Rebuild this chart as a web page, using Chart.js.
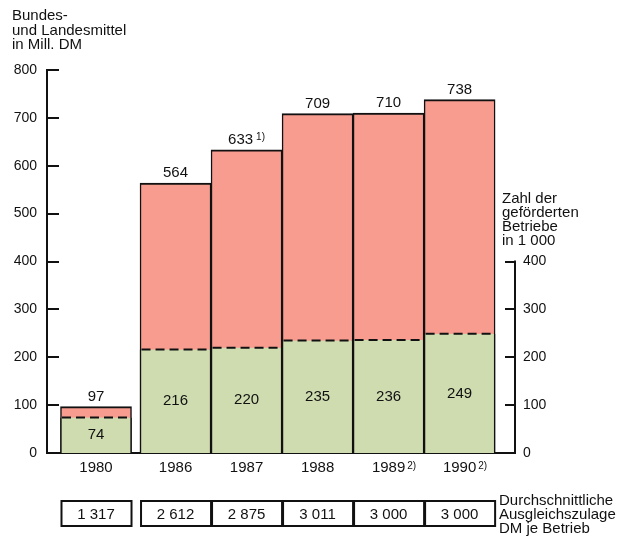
<!DOCTYPE html>
<html>
<head>
<meta charset="utf-8">
<script src="https://cdn.jsdelivr.net/npm/chart.js@4/dist/chart.umd.min.js"></script>
<style>
html, body { margin: 0; padding: 0; background: #fff; }
</style>
</head>
<body>
<canvas id="chart" width="630" height="537"></canvas>
<script>
const years = ['1980', '1986', '1987', '1988', '1989', '1990'];
const yearNotes = ['', '', '', '', '2)', '2)'];
const funds = [97, 564, 633, 709, 710, 738];      // Mill. DM
const fundNotes = ['', '', '1)', '', '', ''];
const farms = [74, 216, 220, 235, 236, 249];      // in 1 000
const perFarm = ['1 317', '2 612', '2 875', '3 011', '3 000', '3 000'];
const leftTicks = [0, 100, 200, 300, 400, 500, 600, 700, 800];
const rightTicks = [0, 100, 200, 300, 400];

// 1980 stands a little apart from the later years
const xPos = years.map((yr, i) => i + (i > 0 ? 0.12 : 0));

const FONT = "'Liberation Sans', Arial, sans-serif";
const red = '#f99c90';
const green = '#cfdcb0';

function idxOf(value) {
    let best = 0;
    xPos.forEach((p, i) => { if (Math.abs(p - value) < Math.abs(xPos[best] - value)) best = i; });
    return best;
}

function textLines(ctx, lines, x, y0, step) {
    lines.forEach((t, i) => ctx.fillText(t, x, y0 + i * step));
}

const drawings = {
    id: 'drawings',
    afterDatasetsDraw(chart) {
        const { ctx, chartArea: area, scales: { x, y, y2 } } = chart;
        const farmMeta = chart.getDatasetMeta(0);
        const fundMeta = chart.getDatasetMeta(1);
        ctx.save();
        ctx.strokeStyle = '#111';
        ctx.fillStyle = '#111';

        // dashed edge on top of the green part
        ctx.lineWidth = 2;
        ctx.setLineDash([9, 5]);
        farmMeta.data.forEach(bar => {
            ctx.beginPath();
            ctx.moveTo(bar.x - bar.width / 2 + 1.5, bar.y);
            ctx.lineTo(bar.x + bar.width / 2 - 1.5, bar.y);
            ctx.stroke();
        });
        ctx.setLineDash([]);

        // inward tick marks, right axis line
        leftTicks.forEach(v => {
            const py = Math.round(y.getPixelForValue(v));
            ctx.beginPath();
            ctx.moveTo(area.left, py);
            ctx.lineTo(area.left + 12, py);
            ctx.stroke();
        });
        ctx.beginPath();
        ctx.moveTo(area.right, y2.getPixelForValue(0) + 1);
        ctx.lineTo(area.right, y2.getPixelForValue(400) - 1);
        ctx.stroke();
        rightTicks.forEach(v => {
            const py = Math.round(y2.getPixelForValue(v));
            ctx.beginPath();
            ctx.moveTo(area.right - 10, py);
            ctx.lineTo(area.right, py);
            ctx.stroke();
        });

        // value labels
        ctx.textBaseline = 'alphabetic';
        fundMeta.data.forEach((bar, i) => {
            const label = String(funds[i]);
            ctx.font = '15px ' + FONT;
            const w = ctx.measureText(label).width;
            let noteW = 0;
            if (fundNotes[i]) {
                ctx.font = '10px ' + FONT;
                noteW = ctx.measureText(fundNotes[i]).width + 3;
            }
            const start = bar.x - (w + noteW) / 2;
            ctx.font = '15px ' + FONT;
            ctx.textAlign = 'left';
            ctx.fillText(label, start, bar.y - 6);
            if (fundNotes[i]) {
                ctx.font = '10px ' + FONT;
                ctx.fillText(fundNotes[i], start + w + 3, bar.y - 10);
            }
        });
        ctx.font = '15px ' + FONT;
        ctx.textAlign = 'center';
        ctx.textBaseline = 'middle';
        farmMeta.data.forEach((bar, i) => {
            ctx.fillText(String(farms[i]), bar.x, (bar.y + bar.base) / 2);
        });

        // footnote marks on year labels
        ctx.textAlign = 'left';
        ctx.textBaseline = 'alphabetic';
        xPos.forEach((p, i) => {
            if (!yearNotes[i]) return;
            ctx.font = '15px ' + FONT;
            const w = ctx.measureText(years[i]).width;
            ctx.font = '10px ' + FONT;
            ctx.fillText(yearNotes[i], x.getPixelForValue(p) + w / 2 + 2, area.bottom + 16);
        });

        // table of average allowance per farm
        const top = area.bottom + 48;
        const h = 25;
        ctx.lineWidth = 2;
        ctx.font = '15px ' + FONT;
        ctx.textAlign = 'center';
        ctx.textBaseline = 'middle';
        fundMeta.data.forEach((bar, i) => {
            const l = bar.x - bar.width / 2;
            ctx.strokeRect(l + 1, top, bar.width - 1, h);
            ctx.fillText(perFarm[i], bar.x, top + h / 2 + 1);
        });

        // titles
        ctx.textAlign = 'left';
        ctx.textBaseline = 'alphabetic';
        ctx.font = '15px ' + FONT;
        textLines(ctx, ['Bundes-', 'und Landesmittel', 'in Mill. DM'], 12, 20, 14.5);
        textLines(ctx, ['Zahl der', 'geförderten', 'Betriebe', 'in 1 000'], area.right - 13, 203, 14);
        textLines(ctx, ['Durchschnittliche', 'Ausgleichszulage', 'DM je Betrieb'], area.right - 16, 505, 14);
        ctx.restore();
    }
};

new Chart(document.getElementById('chart'), {
    type: 'bar',
    data: {
        datasets: [
            {
                label: 'Zahl der geförderten Betriebe',
                data: farms.map((v, i) => ({ x: xPos[i], y: v })),
                yAxisID: 'y2',
                backgroundColor: green,
                borderColor: '#111',
                borderWidth: { top: 0, left: 1.5, right: 1.5, bottom: 0 },
                grouped: false,
                categoryPercentage: 1,
                barPercentage: 1,
                order: 0
            },
            {
                label: 'Bundes- und Landesmittel',
                data: funds.map((v, i) => ({ x: xPos[i], y: v })),
                yAxisID: 'y',
                backgroundColor: red,
                borderColor: '#111',
                borderWidth: { top: 2, left: 1.5, right: 1.5, bottom: 0 },
                grouped: false,
                categoryPercentage: 1,
                barPercentage: 1,
                order: 1
            }
        ]
    },
    options: {
        responsive: false,
        animation: false,
        devicePixelRatio: 1,
        layout: { padding: { top: 70, left: 0, right: 0, bottom: 0 } },
        plugins: {
            legend: { display: false },
            tooltip: { enabled: false }
        },
        scales: {
            x: {
                type: 'linear',
                offset: false,
                min: -0.69,
                max: 5.9,
                afterBuildTicks: axis => { axis.ticks = xPos.map(v => ({ value: v })); },
                afterFit: axis => { axis.height = 84; },
                grid: { display: false, drawTicks: false, offset: false },
                border: { display: true, color: '#111', width: 2 },
                ticks: {
                    autoSkip: false,
                    maxRotation: 0,
                    padding: 6,
                    color: '#111',
                    font: { family: FONT, size: 15 },
                    callback: v => years[idxOf(v)]
                }
            },
            y: {
                position: 'left',
                min: 0,
                max: 800,
                afterBuildTicks: axis => { axis.ticks = leftTicks.map(v => ({ value: v })); },
                afterFit: axis => { axis.width = 47; },
                grid: { display: false, drawTicks: false },
                border: { display: true, color: '#111', width: 2 },
                ticks: { padding: 10, color: '#111', font: { family: FONT, size: 14 } }
            },
            y2: {
                position: 'right',
                min: 0,
                max: 800,
                afterBuildTicks: axis => { axis.ticks = rightTicks.map(v => ({ value: v })); },
                afterFit: axis => { axis.width = 115; },
                grid: { display: false, drawTicks: false },
                border: { display: false },
                ticks: { padding: 8, color: '#111', font: { family: FONT, size: 14 } }
            }
        }
    },
    plugins: [drawings]
});
</script>
</body>
</html>
